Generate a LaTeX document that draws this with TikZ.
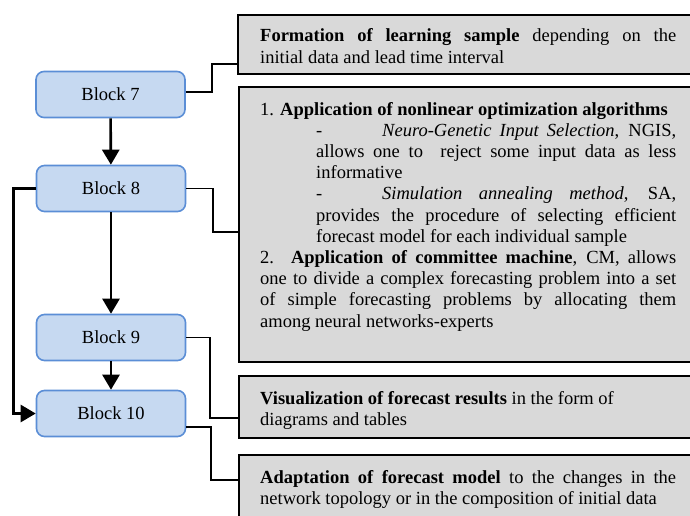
\documentclass[tikz,border=0pt]{standalone}
\usepackage{fontspec}
\setmainfont{Liberation Serif}
\usetikzlibrary{arrows.meta,calc}
\definecolor{blockfill}{HTML}{C6D9F1}
\definecolor{blockdraw}{HTML}{5B8ED6}
\definecolor{grayfill}{HTML}{D9D9D9}
\tikzset{
  blockbox/.style={draw=blockdraw, fill=blockfill, line width=1.6pt, rounded corners=8pt,
    minimum width=149pt, minimum height=46pt, inner sep=0pt,
    font=\fontsize{18.5}{21.2}\selectfont},
  graybox/.style={draw=black, fill=grayfill, line width=2.2pt, inner sep=0pt, anchor=north west},
  txt/.style={inner sep=0pt, anchor=base west, align=justify, text width=416pt,
    font=\fontsize{18.5}{21.2}\selectfont},
  flow/.style={draw=black, line width=2.6pt, -{Triangle[width=17pt,length=15pt]}},
  conn/.style={draw=black, line width=1.7pt}
}
\begin{document}
\begin{tikzpicture}[x=1pt,y=-1pt]
\clip (0,0) rectangle (690,516);
\fill[white] (0,0) rectangle (690,516);
% gray boxes
\node[graybox, minimum width=470pt, minimum height=59pt] (g1) at (237,14) {};
\node[graybox, minimum width=470pt, minimum height=275pt] (g2) at (238,86) {};
\node[graybox, minimum width=470pt, minimum height=62pt] (g3) at (238,375) {};
\node[graybox, minimum width=470pt, minimum height=80pt] (g4) at (238,454) {};
% texts
\node[txt] (t1) at (260,42) {\textbf{Formation of learning sample} depending on the\linebreak initial data and lead time interval};
\node[txt] (t2) at (260,115) {1. \textbf{Application of nonlinear optimization algorithms}\par
\leftskip=56pt
\makebox[66pt][l]{-}\textit{Neuro-Genetic Input Selection}, NGIS,\linebreak allows one to\ \ reject some input data as less\linebreak informative\par
\makebox[66pt][l]{-}\textit{Simulation annealing method}, SA,\linebreak provides the procedure of selecting efficient\linebreak forecast model for each individual sample\par
\leftskip=0pt
2. \textbf{Application of committee machine}, CM, allows\linebreak one to divide a complex forecasting problem into a set\linebreak of simple forecasting problems by allocating them\linebreak among neural networks-experts};
\node[txt] (t3) at (260,404) {\textbf{Visualization of forecast results} in the form of\newline diagrams and tables};
\node[txt] (t4) at (260,483) {\textbf{Adaptation of forecast model} to the changes in the\linebreak network topology or in the composition of initial data};
% blocks
\node[blockbox] (b7) at (110.5,94.5) {Block 7};
\node[blockbox] (b8) at (111,188.5) {Block 8};
\node[blockbox] (b9) at (111,337.5) {Block 9};
\node[blockbox] (b10) at (111,413.5) {Block 10};
% flow arrows
\draw[flow] (b7) -- (b8);
\draw[flow] (b8) -- (b9);
\draw[flow] (b9) -- (b10);
\draw[flow] (b8.west) -- ++(-22,0) |- (b10.west);
% connectors to gray boxes
\draw[conn] ([yshift=2.5pt]b7.east) -- ++(26,0) |- ([yshift=-19.5pt]g1.west);
\draw[conn] (b8.east) -- ++(27,0) |- ([yshift=-7.5pt]g2.west);
\draw[conn] (b9.east) -- ++(24,0) |- ([yshift=-11pt]g3.west);
\draw[conn] ([yshift=-13.5pt]b10.east) -- ++(25,0) |- ([yshift=15pt]g4.west);
\end{tikzpicture}
\end{document}
